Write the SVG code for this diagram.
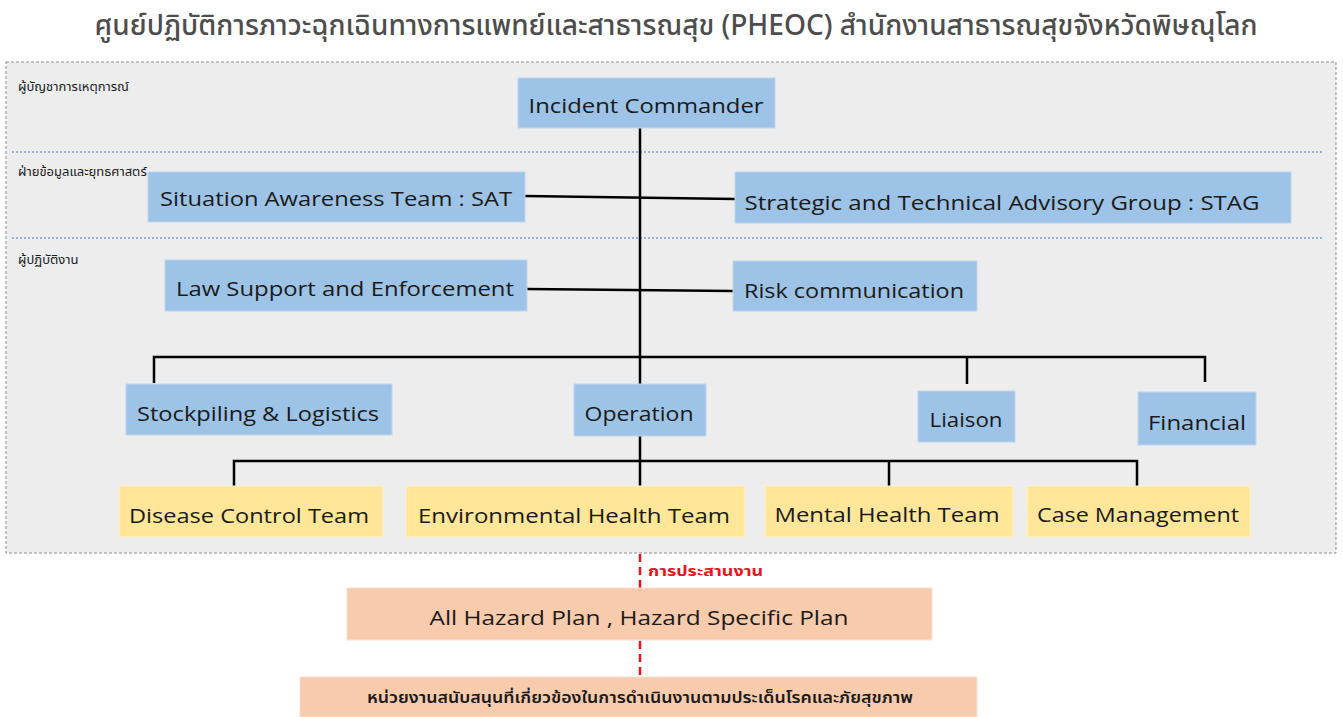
<svg xmlns="http://www.w3.org/2000/svg" width="1343" height="717" viewBox="0 0 1343 717">
<style>
.blue{fill:#9dc3e6;stroke:#bdd7ee;stroke-width:1}
.yel{fill:#ffe699;stroke:#fff2cc;stroke-width:1}
.peach{fill:#f8cbad;stroke:#fbe0ce;stroke-width:1}
.t{font-family:"Open Sans","Noto Sans","DejaVu Sans",sans-serif;font-size:20px;fill:#1a1a1a;text-anchor:middle}
.th{font-family:"Noto Sans Thai","Noto Sans","DejaVu Sans",sans-serif;fill:#1a1a1a}
.ln{stroke:#000;stroke-width:2.5;fill:none}
.sep{stroke:#4472c4;stroke-width:1;stroke-dasharray:2 2;fill:none}
.red{stroke:#e8141a;stroke-width:2.5;stroke-dasharray:8 5;fill:none}
</style>
<rect width="1343" height="717" fill="#ffffff"/>
<text x="676" y="35" font-family="'Noto Sans Thai','Noto Sans',sans-serif" font-size="28" font-weight="500" fill="#4d4d4d" text-anchor="middle" textLength="1163" lengthAdjust="spacingAndGlyphs">ศูนย์ปฏิบัติการภาวะฉุกเฉินทางการแพทย์และสาธารณสุข (PHEOC) สำนักงานสาธารณสุขจังหวัดพิษณุโลก</text>
<g id="panel">
<rect x="6" y="62" width="1330" height="491" fill="#ededed" stroke="#8c8c8c" stroke-width="1" stroke-dasharray="3 2"/>
<line class="sep" x1="12" y1="152" x2="1322" y2="152"/>
<line class="sep" x1="12" y1="238" x2="1322" y2="238"/>
<text class="th" x="18" y="91" font-size="13">ผู้บัญชาการเหตุการณ์</text>
<text class="th" x="18" y="176" font-size="13">ฝ่ายข้อมูลและยุทธศาสตร์</text>
<text class="th" x="18" y="264" font-size="13">ผู้ปฏิบัติงาน</text>
</g>
<g id="connectors">
<polyline class="ln" points="640,128 640,486"/>
<line class="ln" x1="525" y1="196" x2="735" y2="199"/>
<line class="ln" x1="527" y1="289" x2="733" y2="291"/>
<polyline class="ln" points="154,383 154,357 1205,357 1205,382"/>
<line class="ln" x1="967" y1="357" x2="967" y2="384"/>
<polyline class="ln" points="234,486 234,461 1137,461 1137,486"/>
<line class="ln" x1="889" y1="461" x2="889" y2="486"/>
<line class="red" x1="640" y1="554" x2="640" y2="588"/>
<line class="red" x1="640" y1="641" x2="640" y2="677"/>
<text x="648" y="576" font-family="'Noto Sans Thai','Noto Sans',sans-serif" font-size="14" font-weight="bold" fill="#e8141a" textLength="115" lengthAdjust="spacingAndGlyphs">การประสานงาน</text>
</g>
<g id="ic"><rect class="blue" x="518" y="78" width="257" height="50"/><text class="t" x="646" y="113" textLength="235" lengthAdjust="spacingAndGlyphs">Incident Commander</text></g>
<g id="sat"><rect class="blue" x="148" y="172" width="377" height="50"/><text class="t" x="336" y="206" textLength="352" lengthAdjust="spacingAndGlyphs">Situation Awareness Team : SAT</text></g>
<g id="stag"><rect class="blue" x="735" y="172" width="556" height="51"/><text class="t" x="1002" y="210" textLength="515" lengthAdjust="spacingAndGlyphs">Strategic and Technical Advisory Group : STAG</text></g>
<g id="law"><rect class="blue" x="165" y="260" width="362" height="51"/><text class="t" x="345" y="296" textLength="338" lengthAdjust="spacingAndGlyphs">Law Support and Enforcement</text></g>
<g id="risk"><rect class="blue" x="733" y="261" width="244" height="50"/><text class="t" x="854" y="298" textLength="220" lengthAdjust="spacingAndGlyphs">Risk communication</text></g>
<g id="stock"><rect class="blue" x="126" y="384" width="266" height="51"/><text class="t" x="258" y="421" textLength="242" lengthAdjust="spacingAndGlyphs">Stockpiling &amp; Logistics</text></g>
<g id="operation"><rect class="blue" x="574" y="384" width="132" height="52"/><text class="t" x="639" y="421" textLength="109" lengthAdjust="spacingAndGlyphs">Operation</text></g>
<g id="liaison"><rect class="blue" x="918" y="391" width="97" height="51"/><text class="t" x="966" y="427" textLength="73" lengthAdjust="spacingAndGlyphs">Liaison</text></g>
<g id="financial"><rect class="blue" x="1138" y="392" width="118" height="53"/><text class="t" x="1197" y="430" textLength="98" lengthAdjust="spacingAndGlyphs">Financial</text></g>
<g id="disease"><rect class="yel" x="119" y="486" width="264" height="51"/><text class="t" x="249" y="523" textLength="240" lengthAdjust="spacingAndGlyphs">Disease Control Team</text></g>
<g id="env"><rect class="yel" x="406" y="486" width="339" height="51"/><text class="t" x="574" y="523" textLength="312" lengthAdjust="spacingAndGlyphs">Environmental Health Team</text></g>
<g id="mental"><rect class="yel" x="765" y="486" width="248" height="51"/><text class="t" x="887" y="522" textLength="225" lengthAdjust="spacingAndGlyphs">Mental Health Team</text></g>
<g id="case"><rect class="yel" x="1027" y="486" width="223" height="51"/><text class="t" x="1138" y="522" textLength="202" lengthAdjust="spacingAndGlyphs">Case Management</text></g>
<g id="plan"><rect class="peach" x="347" y="588" width="585" height="52"/><text class="t" x="639" y="625" textLength="419" lengthAdjust="spacingAndGlyphs">All Hazard Plan , Hazard Specific Plan</text></g>
<g id="support"><rect class="peach" x="300" y="677" width="677" height="40"/><text class="th" x="640" y="703" font-size="15" font-weight="600" text-anchor="middle" textLength="546" lengthAdjust="spacingAndGlyphs">หน่วยงานสนับสนุนที่เกี่ยวข้องในการดำเนินงานตามประเด็นโรคและภัยสุขภาพ</text></g>
</svg>
